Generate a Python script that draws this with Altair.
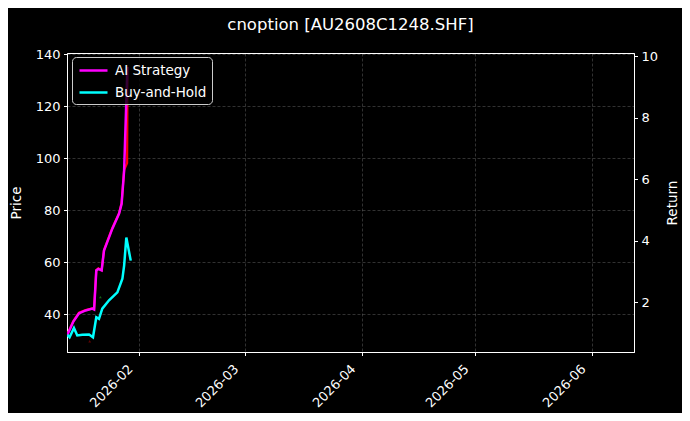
import altair as alt
import pandas as pd

# ---- data ----
ai_dates = ["2026-01-12T22:00", "2026-01-14T12:00", "2026-01-16T00:00", "2026-01-17T18:00",
            "2026-01-19T13:00", "2026-01-20T00:00", "2026-01-20T14:00", "2026-01-21T03:00",
            "2026-01-22T00:00", "2026-01-22T15:00", "2026-01-24T20:00", "2026-01-26T15:00",
            "2026-01-27T07:00", "2026-01-27T23:00", "2026-01-28T20:00"]
ai_values = [0.94, 1.37, 1.64, 1.73, 1.79, 1.76, 3.03, 3.08, 3.03, 3.68, 4.39, 4.88, 5.20, 6.28, 9.65]

bh_dates = ["2026-01-12T22:00", "2026-01-13T12:00", "2026-01-14T16:00", "2026-01-15T13:00",
            "2026-01-16T21:00", "2026-01-18T16:00", "2026-01-19T17:00", "2026-01-20T14:00",
            "2026-01-21T07:00", "2026-01-22T04:00", "2026-01-23T23:00", "2026-01-26T04:00",
            "2026-01-27T12:00", "2026-01-27T23:00", "2026-01-28T13:00", "2026-01-29T17:00"]
bh_values = [0.94, 0.86, 1.16, 0.92, 0.94, 0.95, 0.86, 1.51, 1.46, 1.79, 2.06, 2.32, 2.76, 3.19, 4.10, 3.35]

price_dates = ["2026-01-12T22:00", "2026-01-14T12:00", "2026-01-16T00:00", "2026-01-17T18:00",
               "2026-01-19T13:00", "2026-01-20T00:00", "2026-01-20T14:00", "2026-01-21T03:00",
               "2026-01-22T00:00", "2026-01-22T15:00", "2026-01-24T20:00", "2026-01-26T15:00",
               "2026-01-27T07:00", "2026-01-27T23:00", "2026-01-28T18:00", "2026-01-28T21:00"]
price_values = [32.2, 37.3, 40.5, 41.5, 42.2, 41.9, 56.9, 57.6, 56.9, 64.6, 73.1, 78.8, 82.7, 95.4, 98.1, 135.0]

signal_dates = ["2026-01-21T16:00", "2026-01-18T20:00"]
signal_prices = [46.5, 29.5]
signal_types = ["buy", "sell"]

series_names = ["AI Strategy", "Buy-and-Hold"]
series_colors = ["#ff00ff", "#00ffff"]

month_ticks = [2, 3, 4, 5, 6]
price_ticks = [40, 60, 80, 100, 120, 140]
return_ticks = [2, 4, 6, 8, 10]

# ---- tables ----
returns_df = pd.concat([
    pd.DataFrame({"date": ai_dates, "value": ai_values, "series": series_names[0]}),
    pd.DataFrame({"date": bh_dates, "value": bh_values, "series": series_names[1]}),
])
price_df = pd.DataFrame({"date": price_dates, "price": price_values})
signal_df = pd.DataFrame({"date": signal_dates, "price": signal_prices, "type": signal_types})

FONT = "DejaVu Sans"

x_scale = alt.Scale(domain=[alt.DateTime(year=2026, month=1, date=12, hours=19, minutes=40),
                            alt.DateTime(year=2026, month=6, date=12, hours=2)])
x_axis = alt.Axis(values=[alt.DateTime(year=2026, month=m, date=1) for m in month_ticks],
                  format="%Y-%m", labelAngle=315, labelAlign="right", labelBaseline="middle",
                  labelOffset=-9, labelPadding=11, title=None)
x_enc = alt.X("date:T", scale=x_scale, axis=x_axis)

price_scale = alt.Scale(domain=[25.4, 140.4], nice=False, zero=False)
return_scale = alt.Scale(domain=[0.38, 10.1], nice=False, zero=False)

price_line = alt.Chart(price_df).mark_line(color="red", strokeWidth=2.2, clip=True).encode(
    x=x_enc,
    y=alt.Y("price:Q", scale=price_scale,
            axis=alt.Axis(values=price_ticks, title="Price", orient="left", titlePadding=12)),
)
signals = alt.Chart(signal_df).mark_point(filled=True, size=8, opacity=0.7, shape="triangle-up").encode(
    x=x_enc,
    y=alt.Y("price:Q", scale=price_scale),
    color=alt.Color("type:N", scale=alt.Scale(domain=["buy", "sell"], range=["#1f8a1f", "#8b0000"]),
                    legend=None),
)
left = alt.layer(price_line, signals)

right = alt.Chart(returns_df).mark_line(strokeWidth=2.5, clip=True).encode(
    x=x_enc,
    y=alt.Y("value:Q", scale=return_scale,
            axis=alt.Axis(values=return_ticks, title="Return", orient="right", titleAngle=270,
                          titlePadding=22)),
    color=alt.Color("series:N", scale=alt.Scale(domain=series_names, range=series_colors),
                    legend=alt.Legend(title=None, orient="none", legendX=5, legendY=4,
                                      symbolType="M-2,0H2", symbolSize=196, symbolStrokeWidth=2.5,
                                      symbolOffset=8, labelOffset=13,
                                      labelFontSize=13.5, labelColor="white", labelFont=FONT,
                                      padding=5, rowPadding=7,
                                      fillColor="rgba(0,0,0,0.8)", strokeColor="#cccccc",
                                      cornerRadius=4)),
)

chart = alt.layer(left, right).resolve_scale(y="independent", color="independent").properties(
    width=567, height=299,
    autosize=alt.AutoSizeParams(type="none"),
    padding={"left": 59, "top": 45, "right": 48, "bottom": 61},
    background="black",
    title=alt.TitleParams("cnoption [AU2608C1248.SHF]", fontSize=16.5, fontWeight="normal",
                          color="white", font=FONT, anchor="middle", offset=15),
).configure_view(
    stroke="white", strokeWidth=1, fill="black"
).configure_axis(
    labelColor="white", titleColor="white", domainColor="white", tickColor="white",
    labelFont=FONT, titleFont=FONT, labelFontSize=13, titleFontSize=13.5, titleFontWeight="normal",
    tickSize=3.5, labelPadding=3.5,
    gridColor="white", gridOpacity=0.28, gridDash=[3, 2], gridWidth=0.7, grid=True,
)

chart.save("out.html", embed_options={"renderer": "svg", "actions": False})
